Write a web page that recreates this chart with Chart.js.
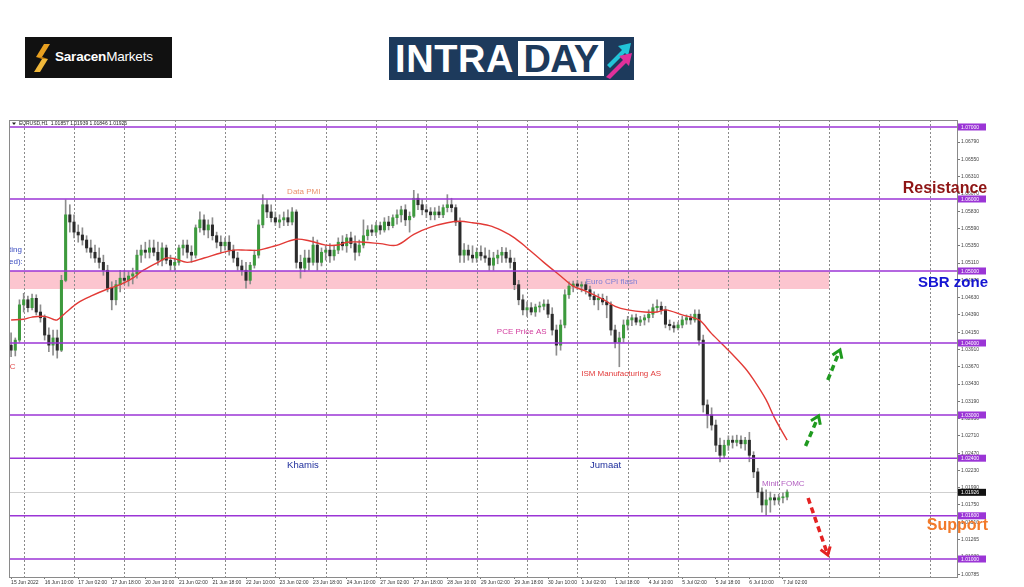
<!DOCTYPE html>
<html>
<head>
<meta charset="utf-8">
<title>EURUSD H1 Intraday</title>
<script src="https://cdn.jsdelivr.net/npm/chart.js@4.4.1/dist/chart.umd.min.js"></script>
<style>
  html, body { margin: 0; padding: 0; background: #fff; }
  body { width: 1024px; height: 587px; position: relative; overflow: hidden; font-family: "Liberation Sans", Arial, sans-serif; }
  #chart { position: absolute; left: 0; top: 0; }
  #saracen { position: absolute; left: 25px; top: 37px; width: 147px; height: 41px; background: #111; }
  #saracen svg { position: absolute; left: 8px; top: 7px; }
  #saracen span { position: absolute; left: 30px; top: 12px; color: #fff; font-size: 13.5px; letter-spacing: -0.2px; }
  #intraday { position: absolute; left: 389px; top: 37px; width: 245px; height: 43px; background: #1d3a5c; }
  #intraday .intra { position: absolute; left: 6px; top: 1px; color: #fff; font-weight: bold; font-size: 38px; line-height: 42px; letter-spacing: 0.6px; }
  #intraday .day { position: absolute; left: 129px; top: 4px; width: 86px; height: 35px; background: #fff; color: #1d3a5c; font-weight: bold; font-size: 38px; line-height: 36px; text-align: center; letter-spacing: -0.5px; }
  #intraday svg { position: absolute; left: 215px; top: 2px; }
</style>
</head>
<body>
<div id="saracen">
  <svg width="18" height="28" viewBox="0 0 18 28">
    <polygon points="11,0 17,0 9,13 3,13" fill="#e8a020"/>
    <polygon points="9,15 15,15 7,28 1,28" fill="#f0b83a"/>
    <polygon points="3,13 9,13 15,15 9,15" fill="#c98410"/>
  </svg>
  <span><b>Saracen</b>Markets</span>
</div>
<div id="intraday">
  <div class="intra">INTRA</div>
  <div class="day">DAY</div>
  <svg width="30" height="40" viewBox="0 0 30 40">
    <polygon points="3,26 18,11 14,7 27,4 24,17 21,14 6,29" fill="#22c4d8"/>
    <polygon points="2,38 19,21 15,17 28,14 25,27 22,24 6,40" fill="#e0309a"/>
  </svg>
</div>
<canvas id="chart" width="1024" height="587"></canvas>
<script>
// EURUSD H1 from 15 Jun 2022 18:00, redrawn as 2-hour candles (slot = 2 hours)
const opens = [
  1.0397,1.0390,1.0404,1.0453,1.0460,1.0449,1.0462,1.0443,1.0435,1.0411,
  1.0397,1.0407,1.0390,1.0487,1.0578,1.0568,1.0554,1.0550,1.0543,1.0532,
  1.0526,1.0518,1.0512,1.0501,1.0476,1.0460,1.0481,1.0490,1.0487,1.0493,
  1.0496,1.0522,1.0529,1.0526,1.0532,1.0526,1.0515,1.0532,1.0515,1.0508,
  1.0512,1.0532,1.0536,1.0526,1.0522,1.0560,1.0571,1.0557,1.0564,1.0549,
  1.0540,1.0535,1.0540,1.0529,1.0518,1.0507,1.0501,1.0487,1.0508,1.0522,
  1.0564,1.0592,1.0582,1.0574,1.0568,1.0571,1.0574,1.0568,1.0582,1.0512,
  1.0504,1.0518,1.0512,1.0536,1.0512,1.0526,1.0529,1.0521,1.0529,1.0540,
  1.0535,1.0546,1.0538,1.0526,1.0536,1.0549,1.0557,1.0554,1.0563,1.0557,
  1.0568,1.0563,1.0574,1.0578,1.0585,1.0571,1.0576,1.0601,1.0592,1.0585,
  1.0582,1.0578,1.0582,1.0578,1.0588,1.0592,1.0588,1.0568,1.0522,1.0529,
  1.0522,1.0518,1.0526,1.0521,1.0518,1.0508,1.0518,1.0522,1.0526,1.0518,
  1.0512,1.0481,1.0460,1.0446,1.0449,1.0443,1.0450,1.0451,1.0454,1.0440,
  1.0418,1.0397,1.0425,1.0467,1.0479,1.0482,1.0479,1.0481,1.0474,1.0465,
  1.0460,1.0462,1.0457,1.0453,1.0418,1.0401,1.0407,1.0425,1.0432,1.0435,
  1.0429,1.0432,1.0435,1.0440,1.0449,1.0451,1.0446,1.0426,1.0424,1.0421,
  1.0425,1.0432,1.0435,1.0432,1.0440,1.0404,1.0314,1.0300,1.0286,1.0258,
  1.0244,1.0258,1.0265,1.0262,1.0265,1.0260,1.0265,1.0244,1.0221,1.0193,
  1.0175,1.0182,1.0185,1.0182,1.0185,1.0186
];
const highs = [
  1.0414,1.0407,1.0460,1.0469,1.0465,1.0468,1.0467,1.0453,1.0439,1.0421,
  1.0418,1.0418,1.0494,1.0599,1.0592,1.0578,1.0564,1.0560,1.0549,1.0543,
  1.0536,1.0532,1.0522,1.0508,1.0485,1.0487,1.0501,1.0501,1.0499,1.0504,
  1.0529,1.0536,1.0540,1.0543,1.0543,1.0540,1.0539,1.0536,1.0522,1.0518,
  1.0536,1.0543,1.0543,1.0535,1.0564,1.0582,1.0578,1.0571,1.0574,1.0554,
  1.0549,1.0546,1.0549,1.0536,1.0526,1.0515,1.0512,1.0512,1.0529,1.0571,
  1.0606,1.0599,1.0592,1.0582,1.0578,1.0582,1.0585,1.0588,1.0585,1.0522,
  1.0529,1.0529,1.0547,1.0543,1.0532,1.0535,1.0538,1.0535,1.0546,1.0549,
  1.0551,1.0554,1.0549,1.0543,1.0571,1.0563,1.0564,1.0568,1.0568,1.0574,
  1.0576,1.0578,1.0585,1.0590,1.0592,1.0582,1.0612,1.0607,1.0599,1.0592,
  1.0588,1.0588,1.0590,1.0592,1.0606,1.0601,1.0592,1.0574,1.0538,1.0536,
  1.0535,1.0532,1.0535,1.0532,1.0529,1.0526,1.0529,1.0533,1.0532,1.0529,
  1.0518,1.0487,1.0467,1.0457,1.0456,1.0454,1.0457,1.0460,1.0460,1.0449,
  1.0425,1.0432,1.0474,1.0485,1.0486,1.0487,1.0485,1.0485,1.0479,1.0471,
  1.0468,1.0468,1.0465,1.0457,1.0425,1.0415,1.0432,1.0437,1.0439,1.0440,
  1.0437,1.0439,1.0446,1.0454,1.0460,1.0457,1.0451,1.0432,1.0429,1.0429,
  1.0437,1.0439,1.0440,1.0446,1.0446,1.0411,1.0321,1.0310,1.0293,1.0268,
  1.0265,1.0271,1.0271,1.0272,1.0271,1.0269,1.0276,1.0249,1.0226,1.0199,
  1.0196,1.0193,1.0190,1.0190,1.0192,1.0196
];
const lows = [
  1.0381,1.0382,1.0401,1.0443,1.0443,1.0446,1.0439,1.0429,1.0404,1.0388,
  1.0383,1.0379,1.0388,1.0485,1.0554,1.0546,1.0540,1.0536,1.0526,1.0518,
  1.0512,1.0504,1.0494,1.0471,1.0446,1.0453,1.0471,1.0481,1.0479,1.0482,
  1.0490,1.0512,1.0518,1.0518,1.0521,1.0508,1.0507,1.0510,1.0501,1.0501,
  1.0508,1.0522,1.0518,1.0512,1.0518,1.0554,1.0550,1.0546,1.0543,1.0532,
  1.0526,1.0529,1.0522,1.0512,1.0501,1.0494,1.0476,1.0482,1.0504,1.0518,
  1.0560,1.0574,1.0568,1.0563,1.0560,1.0563,1.0563,1.0564,1.0504,1.0490,
  1.0499,1.0501,1.0508,1.0501,1.0507,1.0515,1.0512,1.0515,1.0524,1.0529,
  1.0526,1.0532,1.0515,1.0521,1.0532,1.0543,1.0549,1.0549,1.0551,1.0554,
  1.0557,1.0560,1.0565,1.0568,1.0563,1.0554,1.0574,1.0585,1.0578,1.0574,
  1.0571,1.0571,1.0574,1.0574,1.0582,1.0582,1.0563,1.0512,1.0512,1.0515,
  1.0512,1.0512,1.0515,1.0512,1.0501,1.0501,1.0510,1.0512,1.0512,1.0504,
  1.0474,1.0453,1.0439,1.0437,1.0439,1.0437,1.0443,1.0446,1.0435,1.0411,
  1.0383,1.0390,1.0421,1.0462,1.0471,1.0474,1.0471,1.0468,1.0460,1.0453,
  1.0446,1.0453,1.0435,1.0411,1.0393,1.0367,1.0401,1.0418,1.0424,1.0425,
  1.0424,1.0425,1.0429,1.0435,1.0443,1.0440,1.0421,1.0418,1.0415,1.0418,
  1.0421,1.0426,1.0426,1.0429,1.0397,1.0304,1.0282,1.0279,1.0249,1.0235,
  1.0240,1.0251,1.0254,1.0257,1.0254,1.0251,1.0235,1.0213,1.0185,1.0165,
  1.0161,1.0165,1.0175,1.0176,1.0178,1.0182
];
const closes = [
  1.0390,1.0404,1.0453,1.0460,1.0449,1.0462,1.0443,1.0435,1.0411,1.0397,
  1.0407,1.0390,1.0487,1.0578,1.0568,1.0554,1.0550,1.0543,1.0532,1.0526,
  1.0518,1.0512,1.0501,1.0476,1.0460,1.0481,1.0490,1.0487,1.0493,1.0496,
  1.0522,1.0529,1.0526,1.0532,1.0526,1.0515,1.0532,1.0515,1.0508,1.0512,
  1.0532,1.0536,1.0526,1.0522,1.0560,1.0571,1.0557,1.0564,1.0549,1.0540,
  1.0535,1.0540,1.0529,1.0518,1.0507,1.0501,1.0487,1.0508,1.0522,1.0564,
  1.0592,1.0582,1.0574,1.0568,1.0571,1.0574,1.0568,1.0582,1.0512,1.0504,
  1.0518,1.0512,1.0536,1.0512,1.0526,1.0529,1.0521,1.0529,1.0540,1.0535,
  1.0546,1.0538,1.0526,1.0536,1.0549,1.0557,1.0554,1.0563,1.0557,1.0568,
  1.0563,1.0574,1.0578,1.0585,1.0571,1.0576,1.0601,1.0592,1.0585,1.0582,
  1.0578,1.0582,1.0578,1.0588,1.0592,1.0588,1.0568,1.0522,1.0529,1.0522,
  1.0518,1.0526,1.0521,1.0518,1.0508,1.0518,1.0522,1.0526,1.0518,1.0512,
  1.0481,1.0460,1.0446,1.0449,1.0443,1.0450,1.0451,1.0454,1.0440,1.0418,
  1.0397,1.0425,1.0467,1.0479,1.0482,1.0479,1.0481,1.0474,1.0465,1.0460,
  1.0462,1.0457,1.0453,1.0418,1.0401,1.0407,1.0425,1.0432,1.0435,1.0429,
  1.0432,1.0435,1.0440,1.0449,1.0451,1.0446,1.0426,1.0424,1.0421,1.0425,
  1.0432,1.0435,1.0432,1.0440,1.0404,1.0314,1.0300,1.0286,1.0258,1.0244,
  1.0258,1.0265,1.0262,1.0265,1.0260,1.0265,1.0244,1.0221,1.0193,1.0175,
  1.0182,1.0185,1.0182,1.0185,1.0186,1.0193
];

// moving average, read at these slots
const maSlots = [0,3,5,8,10,11,13,16,19,23,26,29,31,35,37,39,42,46,50,53,56,59,63,68,71,75,78,80,84,88,
  92,96,100,104,107,110,114,117,120,123,127,131,134,137,141,144,147,151,154,156,160,164,167,171,175,177,180,182,185];
const maValues = [1.0432,1.0433,1.0436,1.0437,1.0433,1.0432,1.0442,1.0456,1.0465,1.0475,
  1.0481,1.0490,1.0499,1.0512,1.0518,1.0517,1.0512,1.0518,1.0525,1.0529,
  1.0529,1.0529,1.0535,1.0544,1.0542,1.0536,1.0536,1.0540,1.0540,1.0538,
  1.0536,1.0551,1.0561,1.0567,1.0569,1.0567,1.0563,1.0556,1.0546,1.0532,
  1.0512,1.0493,1.0479,1.0472,1.0461,1.0451,1.0446,1.0443,1.0443,1.0446,
  1.0439,1.0432,1.0413,1.0390,1.0365,1.0349,1.0321,1.0296,1.0265];

const xTickSlots = [0,8,16,24,32,40,48,56,64,72,80,88,96,104,112,120,128,136,144,152,160,168,176,184];
const xLabels = ["15 Jun 2022","16 Jun 10:00","17 Jun 02:00","17 Jun 18:00","20 Jun 10:00","21 Jun 02:00",
  "21 Jun 18:00","22 Jun 10:00","23 Jun 02:00","23 Jun 18:00","24 Jun 10:00","27 Jun 02:00",
  "27 Jun 18:00","28 Jun 10:00","29 Jun 02:00","29 Jun 18:00","30 Jun 10:00","1 Jul 02:00",
  "1 Jul 18:00","4 Jul 10:00","5 Jul 02:00","5 Jul 18:00","6 Jul 10:00","7 Jul 02:00"];
const yTicks = [1.06790,1.06550,1.06310,1.06070,1.05830,1.05590,1.05350,1.05110,1.04870,1.04630,
  1.04390,1.04150,1.03910,1.03670,1.03430,1.03190,1.02950,1.02710,1.02470,1.02230,
  1.01990,1.01750,1.01510,1.01265,1.01030,1.00785];

const levels = [1.07, 1.06, 1.05, 1.04, 1.03, 1.024, 1.016, 1.01];
const lastPrice = 1.01926;
const header = "EURUSD,H1  1.01857 1.01939 1.01846 1.01926";
const zoneTop = 1.05, zoneBottom = 1.0475, zoneEndSlot = 195;

const slotCount = 226;
const daySlots = Array.from({ length: 19 }, (_, k) => 3 + 12 * k);

const FONT = '"Liberation Sans", Arial, sans-serif';
const PURPLE = '#9b35d6';

const notes = [
  { text: 'Data PMI', slot: 65.8, price: 1.0610, color: '#ea916c', size: 8 },
  { text: 'Euro CPI flash', slot: 137.0, price: 1.04847, color: '#7f7fd6', size: 8 },
  { text: 'PCE Price AS', slot: 115.8, price: 1.04153, color: '#d23c9e', size: 8 },
  { text: 'ISM Manufacturing AS', slot: 135.9, price: 1.03569, color: '#e23b3b', size: 8 },
  { text: 'Khamis', slot: 65.8, price: 1.02306, color: '#1e2e9c', size: 9.5 },
  { text: 'Jumaat', slot: 138.0, price: 1.02306, color: '#1e2e9c', size: 9.5 },
  { text: 'Minit FOMC', slot: 179.0, price: 1.02042, color: '#b462c2', size: 8 },
  { text: 'ting', slot: -0.5, price: 1.05292, color: '#3a4cc0', size: 8 },
  { text: 'ed):', slot: -0.5, price: 1.05125, color: '#3a4cc0', size: 8 },
  { text: 'C', slot: -0.3, price: 1.03667, color: '#e04a4a', size: 8 }
];
const bigNotes = [
  { text: 'Resistance', slot: 232.7, price: 1.06139, color: '#8e1414', size: 16 },
  { text: 'SBR zone', slot: 232.9, price: 1.04833, color: '#1414d2', size: 15 },
  { text: 'Support', slot: 232.9, price: 1.01458, color: '#f27a2a', size: 16 }
];
const arrows = [
  { from: [189.4, 1.02569], to: [192.5, 1.02986], color: '#1f9a1f' },
  { from: [194.7, 1.03486], to: [197.6, 1.03903], color: '#1f9a1f' },
  { from: [190.0, 1.01847], to: [194.7, 1.01056], color: '#e42222' }
];

const bull = closes.map((c, i) => c >= opens[i]);
const wickData = highs.map((h, i) => ({ x: i, y: [lows[i], h] }));
const bodyData = opens.map((o, i) => ({ x: i, y: [o, closes[i]] }));
const maData = maSlots.map((s, i) => ({ x: s, y: maValues[i] }));

const mt4Plugin = {
  id: 'mt4',
  beforeDatasetsDraw(chart) {
    const { ctx, chartArea: a, scales: { x, y } } = chart;
    ctx.save();
    // SBR zone
    const zt = y.getPixelForValue(zoneTop), zb = y.getPixelForValue(zoneBottom);
    ctx.fillStyle = '#fcc5cf';
    ctx.fillRect(a.left + 1, zt, x.getPixelForValue(zoneEndSlot) - a.left - 1, zb - zt);
    // day separators
    ctx.strokeStyle = '#8a8a8a';
    ctx.lineWidth = 1;
    ctx.setLineDash([2, 2]);
    daySlots.forEach(s => {
      const px = Math.round(x.getPixelForValue(s)) + 0.5;
      ctx.beginPath(); ctx.moveTo(px, a.top); ctx.lineTo(px, a.bottom); ctx.stroke();
    });
    ctx.setLineDash([]);
    // last price line
    const lp = Math.round(y.getPixelForValue(lastPrice)) + 0.5;
    ctx.strokeStyle = '#cfcfcf';
    ctx.beginPath(); ctx.moveTo(a.left, lp); ctx.lineTo(a.right, lp); ctx.stroke();
    ctx.restore();
  },
  afterDatasetsDraw(chart) {
    const { ctx, chartArea: a, scales: { x, y } } = chart;
    ctx.save();
    // horizontal levels
    ctx.strokeStyle = PURPLE;
    ctx.lineWidth = 1.5;
    levels.forEach(v => {
      const py = y.getPixelForValue(v);
      ctx.beginPath(); ctx.moveTo(a.left, py); ctx.lineTo(a.right, py); ctx.stroke();
    });
    // text notes
    ctx.textBaseline = 'middle';
    ctx.textAlign = 'left';
    notes.forEach(n => {
      ctx.fillStyle = n.color;
      ctx.font = n.size + 'px ' + FONT;
      ctx.fillText(n.text, x.getPixelForValue(n.slot), y.getPixelForValue(n.price));
    });
    // dashed arrows
    arrows.forEach(ar => {
      const x0 = x.getPixelForValue(ar.from[0]), y0 = y.getPixelForValue(ar.from[1]);
      const x1 = x.getPixelForValue(ar.to[0]), y1 = y.getPixelForValue(ar.to[1]);
      const ang = Math.atan2(y1 - y0, x1 - x0);
      ctx.strokeStyle = ar.color;
      ctx.lineWidth = 3.5;
      ctx.setLineDash([6, 4]);
      ctx.beginPath(); ctx.moveTo(x0, y0);
      ctx.lineTo(x1 - 3 * Math.cos(ang), y1 - 3 * Math.sin(ang)); ctx.stroke();
      ctx.setLineDash([]);
      ctx.lineWidth = 3;
      ctx.beginPath();
      ctx.moveTo(x1 - 9 * Math.cos(ang - 0.6), y1 - 9 * Math.sin(ang - 0.6));
      ctx.lineTo(x1, y1);
      ctx.lineTo(x1 - 9 * Math.cos(ang + 0.6), y1 - 9 * Math.sin(ang + 0.6));
      ctx.stroke();
    });
    ctx.restore();
  },
  afterDraw(chart) {
    const { ctx, chartArea: a, scales: { x, y } } = chart;
    ctx.save();
    // frame
    ctx.strokeStyle = '#8a8a8a';
    ctx.lineWidth = 1;
    ctx.strokeRect(a.left + 0.5, a.top + 0.5, a.right - a.left, a.bottom - a.top);
    // header
    ctx.fillStyle = '#222';
    ctx.font = '5px ' + FONT;
    ctx.textBaseline = 'middle';
    ctx.textAlign = 'left';
    ctx.beginPath();
    ctx.moveTo(a.left + 3, a.top + 2.5); ctx.lineTo(a.left + 7, a.top + 2.5); ctx.lineTo(a.left + 5, a.top + 5);
    ctx.fill();
    ctx.fillText(header, a.left + 10, a.top + 4);
    // level boxes on the price axis
    levels.forEach(v => {
      const py = y.getPixelForValue(v);
      ctx.fillStyle = PURPLE;
      ctx.fillRect(a.right + 1, py - 3.5, 28, 7);
      ctx.fillStyle = '#fff';
      ctx.fillText(v.toFixed(5), a.right + 4, py + 0.3);
    });
    const lp = y.getPixelForValue(lastPrice);
    ctx.fillStyle = '#111';
    ctx.fillRect(a.right + 1, lp - 3.5, 28, 7);
    ctx.fillStyle = '#fff';
    ctx.fillText(lastPrice.toFixed(5), a.right + 4, lp + 0.3);
    // big zone labels
    ctx.textAlign = 'right';
    bigNotes.forEach(n => {
      ctx.fillStyle = n.color;
      ctx.font = 'bold ' + n.size + 'px ' + FONT;
      ctx.fillText(n.text, x.getPixelForValue(n.slot), y.getPixelForValue(n.price));
    });
    ctx.restore();
  }
};

new Chart(document.getElementById('chart'), {
  type: 'bar',
  data: {
    datasets: [
      {
        type: 'line', label: 'MA', data: maData, order: 0,
        borderColor: '#e23a36', borderWidth: 1.4, pointRadius: 0, tension: 0.35, fill: false
      },
      {
        label: 'body', data: bodyData, order: 1, grouped: false,
        barThickness: 2.4, minBarLength: 1, borderWidth: 0,
        backgroundColor: bull.map(b => b ? '#3d9a3d' : '#2b2b2b')
      },
      {
        label: 'wick', data: wickData, order: 2, grouped: false,
        barThickness: 1, borderWidth: 0,
        backgroundColor: '#8d8d8d'
      }
    ]
  },
  options: {
    responsive: false,
    animation: false,
    events: [],
    layout: { padding: { left: 9, top: 120, right: 0, bottom: 0 } },
    plugins: { legend: { display: false }, tooltip: { enabled: false } },
    scales: {
      x: {
        type: 'linear', min: -0.5, max: slotCount - 0.5, offset: false,
        afterBuildTicks: s => { s.ticks = xTickSlots.map(v => ({ value: v })); },
        afterFit: s => { s.height = 10; },
        ticks: {
          callback: v => { const i = xTickSlots.indexOf(v); return i >= 0 ? xLabels[i] : ''; },
          align: 'start', autoSkip: false, maxRotation: 0, minRotation: 0,
          color: '#333', padding: 1, font: { family: FONT, size: 5 }
        },
        grid: { drawOnChartArea: false, tickLength: 2, color: '#777', offset: false },
        border: { color: '#888' }
      },
      y: {
        position: 'right', min: 1.0075, max: 1.07097,
        afterBuildTicks: s => { s.ticks = yTicks.map(v => ({ value: v })); },
        afterFit: s => { s.width = 67; },
        ticks: {
          callback: v => v.toFixed(5),
          color: '#444', padding: 1, font: { family: FONT, size: 5 }
        },
        grid: { drawOnChartArea: false, tickLength: 3, color: '#777' },
        border: { color: '#888' }
      }
    }
  },
  plugins: [mt4Plugin]
});
</script>
</body>
</html>
